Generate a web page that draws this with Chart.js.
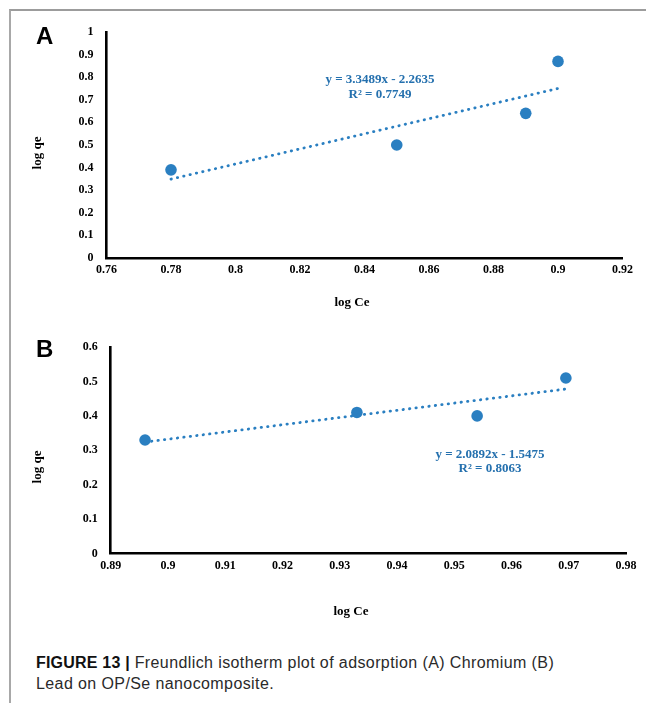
<!DOCTYPE html>
<html lang="en">
<head>
<meta charset="UTF-8">
<title>Freundlich isotherm</title>
<script src="https://cdn.jsdelivr.net/npm/chart.js@4.4.1/dist/chart.umd.min.js"></script>
<style>
  body { margin: 0; background: #fff; }
  #page { position: relative; width: 646px; height: 703px; overflow: hidden; }
  .frame { position: absolute; left: 9px; top: 9px; right: -5px; bottom: -5px;
           border-top: 2px solid #9c9c9c; border-left: 2px solid #a8a8a8; }
  canvas { position: absolute; left: 0; }
  .panel { position: absolute; left: 36px; font: bold 24px "Liberation Sans", Arial, sans-serif; }
  .atitle { position: absolute; font: bold 13px "Liberation Serif", serif; white-space: nowrap; }
  .ytitle { transform: translate(-50%, -50%) rotate(-90deg); }
  .xtitle { transform: translate(-50%, -50%); }
  #caption { position: absolute; left: 36px; top: 652px; width: 610px; white-space: nowrap;
             font: 16px "Liberation Sans", Arial, sans-serif; letter-spacing: 0.4px;
             line-height: 21px; color: #2a2a2a; }
  #caption b { color: #111; letter-spacing: 0.2px; }
</style>
</head>
<body>
<div id="page">
  <div class="frame"></div>
  <canvas id="chartA" width="646" height="320" style="top:0"></canvas>
  <canvas id="chartB" width="646" height="330" style="top:320px"></canvas>

  <div class="panel" style="top:22px">A</div>
  <div class="panel" style="top:335px">B</div>
  <div class="atitle ytitle" style="left:37px; top:153px">log qe</div>
  <div class="atitle xtitle" style="left:352px; top:302px">log Ce</div>
  <div class="atitle ytitle" style="left:37px; top:467px">log qe</div>
  <div class="atitle xtitle" style="left:351px; top:611px">log Ce</div>

  <div id="caption"><b>FIGURE 13 |</b> Freundlich isotherm plot of adsorption (A) Chromium (B)<br>Lead on OP/Se nanocomposite.</div>
</div>

<script>
// ---- data ----
const logCeA = [0.78, 0.85, 0.89, 0.90];
const logQeA = [0.39, 0.50, 0.64, 0.87];
const trendXA = [0.78, 0.90];
const trendYA = [0.349, 0.750];
const eqA = ['y = 3.3489x - 2.2635', 'R\u00b2 = 0.7749'];
const xTicksA = [0.76, 0.78, 0.8, 0.82, 0.84, 0.86, 0.88, 0.9, 0.92];
const yTicksA = [0, 0.1, 0.2, 0.3, 0.4, 0.5, 0.6, 0.7, 0.8, 0.9, 1];

const logCeB = [0.896, 0.933, 0.954, 0.9695];
const logQeB = [0.33, 0.41, 0.40, 0.51];
const trendXB = [0.896, 0.9695];
const trendYB = [0.324, 0.478];
const eqB = ['y = 2.0892x - 1.5475', 'R\u00b2 = 0.8063'];
const xTicksB = [0.89, 0.9, 0.91, 0.92, 0.93, 0.94, 0.95, 0.96, 0.97, 0.98];
const yTicksB = [0, 0.1, 0.2, 0.3, 0.4, 0.5, 0.6];

const BLUE = '#2a7fc1';
const EQ_BLUE = '#2470ae';
const tickFont = { family: 'Liberation Serif', size: 12, weight: 'bold' };

// draws the trendline equation (Excel style label)
const eqLabel = {
  id: 'eqLabel',
  afterDatasetsDraw(chart, args, opts) {
    const ctx = chart.ctx;
    ctx.save();
    ctx.font = 'bold 13px "Liberation Serif"';
    ctx.fillStyle = EQ_BLUE;
    ctx.textAlign = 'center';
    ctx.textBaseline = 'middle';
    opts.lines.forEach((t, i) => ctx.fillText(t, opts.x, opts.y + i * 14.5));
    ctx.restore();
  }
};

function pairs(xs, ys) {
  return xs.map((x, i) => ({ x: x, y: ys[i] }));
}

function makeChart(id, o) {
  return new Chart(document.getElementById(id), {
    type: 'scatter',
    data: {
      datasets: [
        {
          data: pairs(o.px, o.py),
          backgroundColor: BLUE,
          borderWidth: 0,
          pointRadius: 5.8,
          order: 2
        },
        {
          data: pairs(o.tx, o.ty),
          showLine: true,
          borderColor: BLUE,
          borderWidth: 2.8,
          borderDash: [0.4, 6.1],
          borderCapStyle: 'round',
          pointRadius: 0,
          order: 1
        }
      ]
    },
    options: {
      responsive: false,
      animation: false,
      events: [],
      layout: { autoPadding: false, padding: o.pad },
      plugins: {
        legend: { display: false },
        tooltip: { enabled: false },
        eqLabel: o.eq
      },
      scales: {
        x: {
          type: 'linear', min: o.xTicks[0], max: o.xTicks[o.xTicks.length - 1],
          afterBuildTicks: s => { s.ticks = o.xTicks.map(v => ({ value: v })); },
          afterFit: s => { s.height = 30; },
          grid: { display: false, drawTicks: false },
          border: { color: '#000', width: 2.6 },
          ticks: { color: '#000', font: tickFont, padding: 5, maxRotation: 0, autoSkip: false,
                   callback: v => String(v) }
        },
        y: {
          type: 'linear', min: o.yTicks[0], max: o.yTicks[o.yTicks.length - 1],
          afterBuildTicks: s => { s.ticks = o.yTicks.map(v => ({ value: v })); },
          afterFit: s => { s.width = o.yw; },
          grid: { display: false, drawTicks: false },
          border: { color: '#000', width: 2.6 },
          ticks: { color: '#000', font: tickFont, padding: 13, autoSkip: false,
                   callback: v => String(v) }
        }
      }
    },
    plugins: [eqLabel]
  });
}

makeChart('chartA', {
  px: logCeA, py: logQeA, tx: trendXA, ty: trendYA,
  xTicks: xTicksA, yTicks: yTicksA, yw: 106.5,
  pad: { left: 0, right: 23.5, top: 32, bottom: 32 },
  eq: { lines: eqA, x: 380, y: 80 }
});

makeChart('chartB', {
  px: logCeB, py: logQeB, tx: trendXB, ty: trendYB,
  xTicks: xTicksB, yTicks: yTicksB, yw: 110.7,
  pad: { left: 0, right: 20, top: 27, bottom: 66.3 },
  eq: { lines: eqB, x: 490, y: 134.3 }
});
</script>
</body>
</html>
